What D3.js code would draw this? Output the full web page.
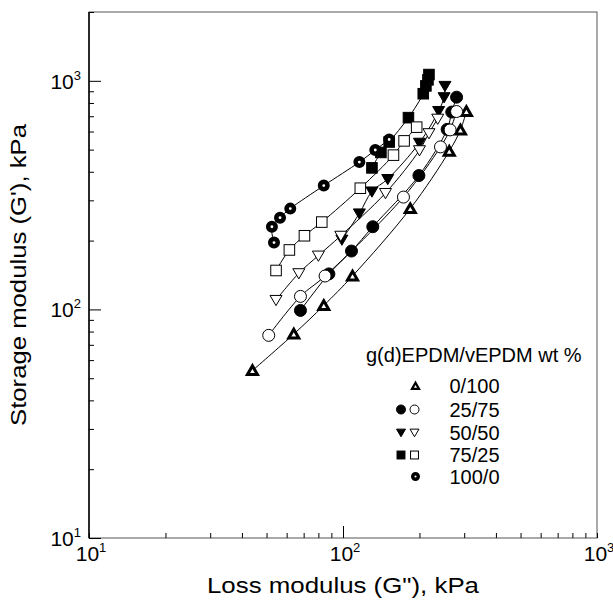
<!DOCTYPE html>
<meta charset="utf-8">
<style>
body{margin:0;background:#fff;}
svg text{font-family:"Liberation Sans",Arial,sans-serif;fill:#000;}
.frame{fill:none;stroke:#555;stroke-width:1;}
.curve{fill:none;stroke:#000;stroke-width:1;}
</style>
<body>
<script src="https://d3js.org/d3.v7.min.js"></script>
<script>
// loss modulus G'' (kPa) and storage modulus G' (kPa)
var x0_100 = [44, 64, 84, 109, 184, 262, 290, 306];
var y0_100 = [54, 78, 104, 140, 276, 492, 610, 735];

var x25_75f = [68, 88, 108, 131, 199, 257, 268, 280];
var y25_75f = [99, 143, 180, 230, 385, 613, 730, 848];
var x25_75o = [51, 68, 85, 173, 242, 264, 280];
var y25_75o = [77, 114, 140, 310, 514, 610, 734];

var x50_50f = [99, 116, 130, 150, 200, 238, 250, 252];
var y50_50f = [202, 263, 328, 372, 536, 738, 848, 950];
var x50_50o = [54.5, 67, 80, 98, 147, 200, 218, 236];
var y50_50o = [110, 144, 172, 210, 323, 497, 590, 683];

var x75_25f = [130, 141, 152, 181, 207, 212, 216, 218];
var y75_25f = [416, 486, 540, 690, 878, 950, 1010, 1065];
var x75_25o = [54.5, 61.5, 70.5, 82.5, 117, 158, 174, 195];
var y75_25o = [148, 182, 210, 241, 339, 473, 546, 627];

var x100_0 = [53.5, 52.5, 56.5, 62, 84, 116, 134, 152];
var y100_0 = [196, 230, 252, 276, 348, 441, 498, 554];

var legendTitle = "g(d)EPDM/vEPDM wt %";
var legendLabels = ["0/100", "25/75", "50/50", "75/25", "100/0"];
var xTickExp = [1, 2, 3];
var yTickExp = [1, 2, 3];

var series = [
  {xs: x0_100, ys: y0_100, sym: "triBold"},
  {xs: x25_75f, ys: y25_75f, sym: "circleFill"},
  {xs: x25_75o, ys: y25_75o, sym: "circleOpen"},
  {xs: x50_50f, ys: y50_50f, sym: "downFill"},
  {xs: x50_50o, ys: y50_50o, sym: "downOpen"},
  {xs: x75_25f, ys: y75_25f, sym: "squareFill"},
  {xs: x75_25o, ys: y75_25o, sym: "squareOpen"},
  {xs: x100_0, ys: y100_0, sym: "ringBold"}
];
var legendSyms = [["triBold"], ["circleFill", "circleOpen"], ["downFill", "downOpen"], ["squareFill", "squareOpen"], ["ringBold"]];

var W = 613, H = 605;
var mLeft = 89, mRight = 597, mTop = 12, mBottom = 538;

var svg = d3.select("body").append("svg").attr("width", W).attr("height", H);

var x = d3.scaleLog().domain([10, 1000]).range([mLeft, mRight]);
var y = d3.scaleLog().domain([10, 2000]).range([mBottom, mTop]);

// frame
svg.append("rect").attr("class", "frame")
  .attr("x", mLeft).attr("y", mTop).attr("width", mRight - mLeft).attr("height", mBottom - mTop);
svg.append("line").attr("x1", mLeft).attr("x2", mLeft).attr("y1", mTop).attr("y2", mBottom)
  .attr("stroke", "#000").attr("stroke-width", 1.5);

// inward ticks
var yAxis = d3.axisRight(y).tickValues(d3.range(1, 4).flatMap(function(e){
    return d3.range(1, 10).map(function(m){ return m * Math.pow(10, e); });
  }).filter(function(v){ return v >= 10 && v <= 2000; }))
  .tickSize(5).tickFormat("");
var gy = svg.append("g").attr("transform", "translate(" + mLeft + ",0)").call(yAxis);
gy.select(".domain").remove();
gy.selectAll(".tick line").attr("x2", function(d){ return Math.abs(Math.log10(d) % 1) < 1e-9 ? 12 : 5; });

var xAxis = d3.axisTop(x).tickValues(d3.range(1, 3).flatMap(function(e){
    return d3.range(1, 10).map(function(m){ return m * Math.pow(10, e); });
  }).concat([1000]))
  .tickSize(5).tickFormat("");
var gx = svg.append("g").attr("transform", "translate(0," + mBottom + ")").call(xAxis);
gx.select(".domain").remove();
gx.selectAll(".tick line").attr("y2", function(d){ return d === 100 ? -12 : -5; });

// tick labels
function powLabel(sel, e){
  sel.append("tspan").text("10");
  sel.append("tspan").attr("dy", -9).attr("font-size", 13).text(e);
}
yTickExp.forEach(function(e){
  svg.append("text").attr("x", 81).attr("y", y(Math.pow(10, e)) + 8)
    .attr("text-anchor", "end").attr("font-size", 21).call(powLabel, e);
});
xTickExp.forEach(function(e){
  svg.append("text").attr("x", x(Math.pow(10, e)) + 2).attr("y", 561)
    .attr("text-anchor", "middle").attr("font-size", 21).call(powLabel, e);
});

// axis titles (the original face is wider than Arial, so stretch to the measured length)
svg.append("text").attr("x", (mLeft + mRight) / 2).attr("y", 593)
  .attr("text-anchor", "middle").attr("font-size", 22)
  .attr("textLength", 272).attr("lengthAdjust", "spacingAndGlyphs")
  .text("Loss modulus (G\"), kPa");
svg.append("text").attr("transform", "translate(26," + ((mTop + mBottom) / 2) + ") rotate(-90)")
  .attr("text-anchor", "middle").attr("font-size", 21.5)
  .attr("textLength", 302).attr("lengthAdjust", "spacingAndGlyphs")
  .text("Storage modulus (G'), kPa");

// symbols
function drawSym(g, sym, cx, cy, s){
  var r = s / 2;
  if (sym === "circleFill" || sym === "circleOpen"){
    g.append("circle").attr("cx", cx).attr("cy", cy).attr("r", r)
      .attr("fill", sym === "circleFill" ? "#000" : "#fff").attr("stroke", "#000").attr("stroke-width", 1);
  } else if (sym === "ringBold"){
    g.append("circle").attr("cx", cx).attr("cy", cy).attr("r", r * 0.62)
      .attr("fill", "#fff").attr("stroke", "#000").attr("stroke-width", r * 0.76);
  } else if (sym === "squareFill" || sym === "squareOpen"){
    g.append("rect").attr("x", cx - r * 0.88).attr("y", cy - r * 0.88).attr("width", r * 1.76).attr("height", r * 1.76)
      .attr("fill", sym === "squareFill" ? "#000" : "#fff").attr("stroke", "#000").attr("stroke-width", 1);
  } else if (sym === "downFill" || sym === "downOpen"){
    var p = [[cx - r, cy - r * 0.75], [cx + r, cy - r * 0.75], [cx, cy + r * 0.95]];
    g.append("path").attr("d", "M" + p.join("L") + "Z")
      .attr("fill", sym === "downFill" ? "#000" : "#fff").attr("stroke", "#000").attr("stroke-width", 1);
  } else if (sym === "triBold"){
    var q = [[cx - r + 1, cy + r * 0.75 - 0.5], [cx + r - 1, cy + r * 0.75 - 0.5], [cx, cy - r * 0.95 + 1]];
    g.append("path").attr("d", "M" + q.join("L") + "Z")
      .attr("fill", "#fff").attr("stroke", "#000").attr("stroke-width", r * 0.5).attr("stroke-linejoin", "miter");
  }
}

var line = d3.line().curve(d3.curveCatmullRom.alpha(0.5));
var plot = svg.append("g");
series.forEach(function(s){
  var pts = s.xs.map(function(v, i){ return [x(v), y(s.ys[i])]; });
  plot.append("path").attr("class", "curve").attr("d", line(pts));
});
series.forEach(function(s){
  s.xs.forEach(function(v, i){ drawSym(plot, s.sym, x(v), y(s.ys[i]), 12); });
});

// legend
var lg = svg.append("g");
lg.append("text").attr("x", 366).attr("y", 362).attr("font-size", 20).text(legendTitle);
var rowY = [386, 409.5, 432.5, 455, 476.5];
legendLabels.forEach(function(t, i){
  lg.append("text").attr("x", 449.5).attr("y", rowY[i] + 7).attr("font-size", 20).text(t);
  var syms = legendSyms[i];
  if (syms.length === 2){
    drawSym(lg, syms[0], 401, rowY[i], 9);
    drawSym(lg, syms[1], 414.5, rowY[i], 9);
  } else {
    drawSym(lg, syms[0], 415.5, rowY[i], 9);
  }
});
</script>
</body>
